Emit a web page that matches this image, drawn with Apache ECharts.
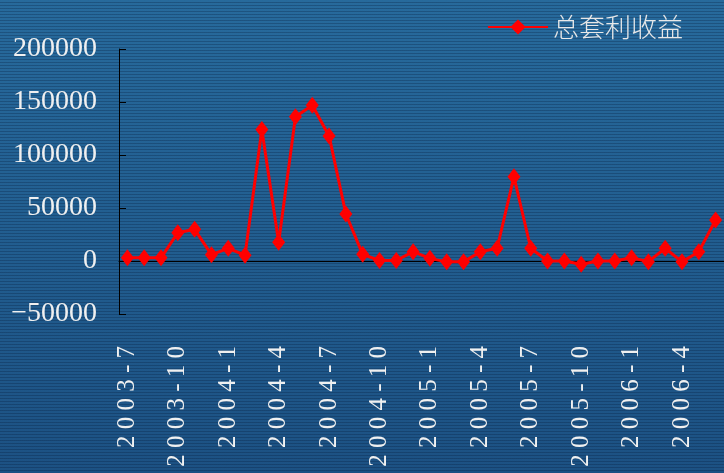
<!DOCTYPE html>
<html>
<head>
<meta charset="utf-8">
<script src="https://cdn.jsdelivr.net/npm/echarts@6/dist/echarts.min.js"></script>
<style>
  html, body { margin: 0; padding: 0; }
  #chart {
    width: 724px; height: 473px;
    background:
      repeating-linear-gradient(to bottom, rgba(0,0,0,0) 0px, rgba(0,0,0,0) 2px, rgba(5,25,55,0.28) 2px, rgba(5,25,55,0.28) 3px),
      linear-gradient(to bottom, #276a9c, #1c5183);
  }
</style>
</head>
<body>
<div id="chart"></div>
<script>
// Monthly periods
const months = [
  '2003-7','2003-8','2003-9','2003-10','2003-11','2003-12',
  '2004-1','2004-2','2004-3','2004-4','2004-5','2004-6',
  '2004-7','2004-8','2004-9','2004-10','2004-11','2004-12',
  '2005-1','2005-2','2005-3','2005-4','2005-5','2005-6',
  '2005-7','2005-8','2005-9','2005-10','2005-11','2005-12',
  '2006-1','2006-2','2006-3','2006-4','2006-5','2006-6'
];

// Total arbitrage profit per month
const totalProfit = [
  3000, 3000, 3000, 26700, 29900, 6000,
  12000, 5500, 124000, 17600, 136000, 147000,
  118000, 44300, 6300, 500, 500, 8800,
  2500, -800, -800, 8800, 12000, 79500,
  12000, 0, 0, -3100, 0, 0,
  3100, -600, 12000, -800, 8800, 38700
];

const seriesName = '总套利收益';
const yMin = -50000, yMax = 200000, yStep = 50000;
// Labels shown every third month
const labelEvery = 3;

const chart = echarts.init(document.getElementById('chart'));
const serif = '"Liberation Serif", "Times New Roman", serif';

chart.setOption({
  backgroundColor: 'transparent',
  animation: false,
  legend: {
    data: [seriesName],
    right: 36,
    top: 9,
    itemWidth: 60,
    itemHeight: 19,
    itemGap: 5,
    textStyle: {
      color: '#e8e8e8',
      fontSize: 26,
      fontFamily: '"Noto Sans CJK SC", sans-serif',
      fontWeight: 300
    }
  },
  grid: {
    left: 119, right: 0, top: 49, bottom: 159,
    containLabel: false,
    outerBoundsMode: 'none'
  },
  xAxis: {
    type: 'category',
    data: months,
    boundaryGap: true,
    axisLine: { onZero: true, lineStyle: { color: '#000', width: 1 } },
    axisTick: { show: false },
    axisLabel: {
      rotate: 90,
      margin: 32,
      interval: labelEvery - 1,
      hideOverlap: false,
      color: '#f0f0f0',
      fontSize: 25,
      fontFamily: serif,
      formatter: v => v.split('').join(' ')
    },
    splitLine: { show: false }
  },
  yAxis: {
    type: 'value',
    min: yMin,
    max: yMax,
    interval: yStep,
    axisLine: { show: true, lineStyle: { color: '#000', width: 1 } },
    axisTick: { show: true, inside: true, length: 7, lineStyle: { color: '#000' } },
    axisLabel: {
      margin: 22,
      color: '#f0f0f0',
      fontSize: 28,
      fontFamily: serif,
      formatter: v => (v < 0 ? '\u2212' + Math.abs(v) : String(v))
    },
    splitLine: { show: false }
  },
  series: [{
    name: seriesName,
    type: 'line',
    data: totalProfit,
    symbol: 'diamond',
    symbolSize: [13, 17],
    showSymbol: true,
    showAllSymbol: true,
    itemStyle: { color: '#ff0000' },
    lineStyle: { color: '#ff0000', width: 3 },
    z: 5
  }]
});
</script>
</body>
</html>
